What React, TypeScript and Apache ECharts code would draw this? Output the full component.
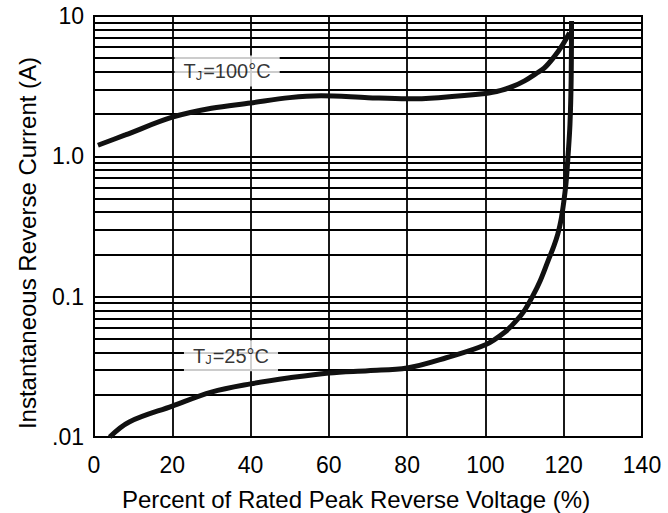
import React, { useEffect, useRef } from "react";
import * as echarts from "echarts";

// ---- data ----
const xMin = 0;
const xMax = 140;
const xStep = 20;
const yMin = 0.01;
const yMax = 10;
const yTickValues = [0.01, 0.1, 1, 10];
const yTickLabels = [".01", "0.1", "1.0", "10"];
const minorGridValues = [
  0.02, 0.03, 0.04, 0.05, 0.06, 0.07, 0.08, 0.09,
  0.2, 0.3, 0.4, 0.5, 0.6, 0.7, 0.8, 0.9,
  2, 3, 4, 5, 6, 7, 8, 9,
];

const curve100: [number, number][] = [
  [1, 1.2], [8, 1.42], [20, 1.9], [30, 2.2], [40, 2.4], [50, 2.62], [58, 2.7],
  [70, 2.62], [80, 2.57], [88, 2.62], [100, 2.8], [104, 2.95], [107, 3.15],
  [110, 3.45], [113, 3.9], [115, 4.25], [117.5, 5.1], [119.5, 6.1], [121.5, 7.6],
];

const curve25: [number, number][] = [
  [4, 0.01], [9, 0.0128], [20, 0.0166], [30, 0.0209], [40, 0.0239], [50, 0.0264],
  [60, 0.0286], [70, 0.0297], [80, 0.031], [90, 0.0367], [100, 0.0454], [105, 0.056],
  [108, 0.068], [110, 0.08], [112, 0.1], [114, 0.13], [116, 0.18], [117.5, 0.23],
  [118.5, 0.28], [119.3, 0.35], [120, 0.47], [120.6, 0.65], [121.1, 1.0],
  [121.6, 1.7], [121.9, 3.5], [122, 9.2],
];

const curveLabels = [
  { temp: "100", x: 34, y: 4.05 },
  { temp: "25", x: 35, y: 0.038 },
];

const xAxisTitle = "Percent of Rated Peak Reverse Voltage (%)";
const yAxisTitle = "Instantaneous Reverse Current (A)";

const FONT = "'Liberation Sans', Arial, sans-serif";

export default function App() {
  const ref = useRef<HTMLDivElement>(null);
  useEffect(() => {
    if (!ref.current) return;
    const chart = echarts.init(ref.current, undefined, { renderer: "svg" });
    const lineStyleGrid = { color: "#000", width: 1.8 };
    chart.setOption({
      animation: false,
      backgroundColor: "#fff",
      grid: {
        left: 94,
        right: 26,
        top: 16,
        bottom: 76,
        show: true,
        borderColor: "#000",
        borderWidth: 2,
      },
      xAxis: {
        type: "value",
        min: xMin,
        max: xMax,
        interval: xStep,
        axisLine: { show: true, lineStyle: { color: "#000", width: 2 } },
        axisTick: { show: false },
        splitLine: { show: true, lineStyle: lineStyleGrid },
        axisLabel: {
          color: "#000",
          fontSize: 23,
          fontFamily: FONT,
          margin: 16,
        },
      },
      yAxis: {
        type: "log",
        logBase: 10,
        min: yMin,
        max: yMax,
        axisLine: { show: true, lineStyle: { color: "#000", width: 2 } },
        axisTick: { show: false },
        splitLine: { show: true, lineStyle: { color: "#000", width: 2.2 } },
        axisLabel: {
          color: "#000",
          fontSize: 23,
          fontFamily: FONT,
          margin: 10,
          formatter: (v: number) => {
            const i = yTickValues.findIndex((t) => Math.abs(Math.log10(t) - Math.log10(v)) < 1e-6);
            return i >= 0 ? yTickLabels[i] : "";
          },
        },
      },
      graphic: [
        {
          type: "text",
          x: 356,
          y: 499,
          style: {
            text: xAxisTitle,
            fontSize: 24,
            fontFamily: FONT,
            fill: "#000",
            align: "center",
            verticalAlign: "middle",
          },
        },
        {
          type: "text",
          x: 27,
          y: 243,
          rotation: Math.PI / 2,
          style: {
            text: yAxisTitle,
            fontSize: 24,
            fontFamily: FONT,
            fill: "#000",
            align: "center",
            verticalAlign: "middle",
          },
        },
      ],
      series: [
        {
          type: "line",
          data: curve100,
          smooth: 0.35,
          showSymbol: false,
          lineStyle: { color: "#111", width: 5 },
          z: 5,
          markLine: {
            silent: true,
            symbol: "none",
            label: { show: false },
            lineStyle: { color: "#000", width: 1.8, type: "solid" },
            data: minorGridValues.map((v) => ({ yAxis: v })),
          },
        },
        {
          type: "line",
          data: curve25,
          smooth: 0.35,
          showSymbol: false,
          lineStyle: { color: "#111", width: 5 },
          z: 5,
        },
        {
          type: "scatter",
          symbolSize: 0,
          z: 10,
          data: curveLabels.map((l) => ({ value: [l.x, l.y] })),
          label: {
            show: true,
            position: "inside",
            backgroundColor: "#fff",
            padding: [5, 9, 5, 9],
            formatter: (p: any) =>
              `{t|T}{s|J}{t|=${curveLabels[p.dataIndex].temp}°C}`,
            rich: {
              t: { fontSize: 20, fontFamily: FONT, color: "#000" },
              s: { fontSize: 13, fontFamily: FONT, color: "#000", padding: [8, 1, 0, 0] },
            },
          },
        },
      ],
    });
    return () => chart.dispose();
  }, []);
  return (
    <div
      ref={ref}
      style={{ position: "fixed", left: 0, top: 0, width: 668, height: 513, background: "#fff" }}
    />
  );
}
